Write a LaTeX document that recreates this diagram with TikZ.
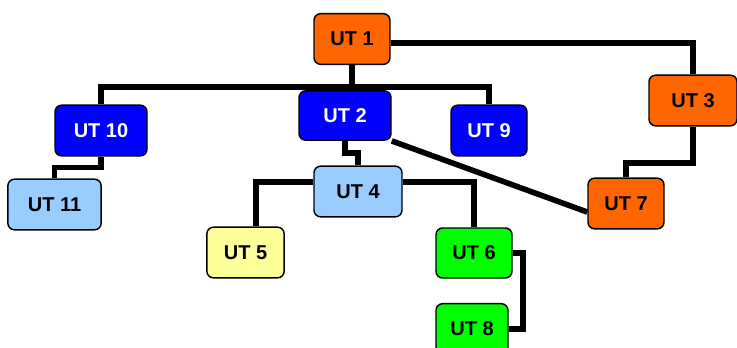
\documentclass[tikz,border=0pt]{standalone}
\usepackage{fontspec}
\setmainfont{Liberation Sans}
\usepackage{xcolor}
\usetikzlibrary{positioning,calc}

\definecolor{utorange}{HTML}{FF6600}
\definecolor{utblue}{HTML}{0000FF}
\definecolor{utsky}{HTML}{99CCFF}
\definecolor{utyellow}{HTML}{FFFF99}
\definecolor{utgreen}{HTML}{00FF00}

\tikzset{
    unit/.style={draw=black, line width=1.1pt, rounded corners=5pt,
        minimum height=38pt, inner sep=0pt,
        font=\fontsize{15}{18}\selectfont\bfseries},
    link/.style={line width=4.2pt, line join=miter}
}

\begin{document}
\begin{tikzpicture}[x=0.75pt, y=-0.75pt]
    \useasboundingbox (0,0) rectangle (737,347);

    % Links
    \coordinate (bus) at (0,87);
    \coordinate (k3) at (0,163);
    \coordinate (k6) at (523,0);

    % Units
    \node [unit, fill=utorange, minimum width=57pt] (ut1) at (352,39) {UT 1};
    \node [unit, fill=utblue, text=white, minimum width=69pt, minimum height=37pt] (ut2) at (345,115.5) {UT 2};
    \node [unit, fill=utblue, text=white, minimum width=69pt] (ut10) at (101,130.5) {UT 10};
    \node [unit, fill=utblue, text=white, minimum width=57pt] (ut9) at (489,130.5) {UT 9};
    \node [unit, fill=utorange, minimum width=66pt] (ut3) at (693,100.5) {UT 3};
    \node [unit, fill=utorange, minimum width=57pt] (ut7) at (626,203.5) {UT 7};
    \node [unit, fill=utsky, minimum width=66pt] (ut4) at (358,191.5) {UT 4};
    \node [unit, fill=utsky, minimum width=70pt] (ut11) at (54.5,204.5) {UT 11};
    \node [unit, fill=utyellow, minimum width=58pt] (ut5) at (245.5,252.5) {UT 5};
    \node [unit, fill=utgreen, minimum width=57pt, minimum height=37.5pt] (ut6) at (474,253) {UT 6};
    \node [unit, fill=utgreen, minimum width=54pt] (ut8) at (472,329) {UT 8};

    % Links
    \draw [link] (ut1.south) -- (ut1.south |- bus);
    \draw [link] (ut10.north) -- (ut10.north |- bus) -- (ut9.north |- bus) -- (ut9.north);
    \draw [link] ([yshift=-3pt]ut1.east) -| (ut3.north);
    \draw [link] (ut3.south) -- (ut3.south |- k3) -| (ut7.north);
    \draw [link] (ut2.south east) -- ([yshift=-6.4pt]ut7.west);
    \draw [link] (ut2.south) |- ($(ut2.south)!0.5!(ut4.north)$) -| (ut4.north);
    \draw [link] (ut10.south) |- ($(ut10.south)!0.5!(ut11.north)$) -| (ut11.north);
    \draw [link] ([yshift=7pt]ut4.west) -| ([xshift=8pt]ut5.north);
    \draw [link] ([yshift=7pt]ut4.east) -| (ut6.north);
    \draw [link] (ut6.east) -- (k6 |- ut6.east) -- (k6 |- ut8.east) -- (ut8.east);
\end{tikzpicture}
\end{document}
